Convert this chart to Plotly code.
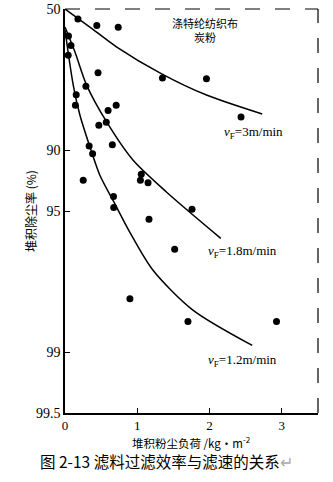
import numpy as np
import plotly.graph_objects as go

# Measured points: dust load (kg/m^2) and cumulative efficiency (%)
pt_load = [0.179, 0.440, 0.736, 0.048, 0.083, 0.044, 0.457, 1.348, 1.957, 0.289,
           0.155, 0.144, 0.708, 0.596, 0.468, 0.571, 2.435, 0.655, 0.334, 0.382,
           0.252, 1.055, 1.043, 1.149, 0.671, 0.674, 1.757, 1.162, 1.517, 0.898,
           1.701, 2.926]
pt_eff = [55.4, 58.6, 59.4, 63.2, 67.0, 70.5, 75.8, 77.2, 77.4, 79.3,
          81.2, 83.3, 83.3, 84.3, 86.7, 86.25, 85.4, 89.35, 89.5, 90.4,
          92.9, 92.4, 92.9, 93.1, 94.1, 94.8, 94.9, 95.45, 96.77, 98.16,
          98.58, 98.58]

# Fitted curves for filtration velocities
c3_load = [0.0, 0.344, 0.711, 1.344, 1.949, 2.728]
c3_eff = [50.0, 59.3, 67.5, 76.2, 81.2, 84.9]
c18_load = [0.0, 0.138, 0.299, 0.574, 0.940, 1.399, 2.155]
c18_eff = [59.3, 69.4, 79.0, 86.16, 91.06, 93.77, 96.34]
c12_load = [0.0, 0.114, 0.206, 0.344, 0.481, 0.674, 0.894, 1.215, 1.765, 2.590]
c12_eff = [60.6, 79.0, 85.06, 89.59, 92.46, 94.44, 96.06, 97.45, 98.38, 98.92]

y_tick_eff = [50, 90, 95, 99, 99.5]
y_tick_text = ["50", "90", "95", "99", "99.5"]
x_ticks = [0, 1, 2, 3]


def pen(eff):
    return [round(100 - e, 6) for e in eff]


fig = go.Figure()
line_style = dict(color="black", width=1.5, shape="spline", smoothing=0.8)
for lx, ly in [(c3_load, c3_eff), (c18_load, c18_eff), (c12_load, c12_eff)]:
    fig.add_trace(go.Scatter(x=lx, y=pen(ly), mode="lines", line=line_style,
                             hoverinfo="skip", showlegend=False))
fig.add_trace(go.Scatter(x=pt_load, y=pen(pt_eff), mode="markers",
                         marker=dict(color="black", size=7),
                         showlegend=False))

serif = "Liberation Serif"
cjk = "Noto Sans CJK SC"

fig.update_layout(
    width=333, height=482,
    margin=dict(l=65, r=15, t=9, b=69, autoexpand=False),
    paper_bgcolor="white", plot_bgcolor="white",
    font=dict(family=serif, size=13, color="black"),
    xaxis=dict(range=[0, 3.5], tickvals=x_ticks, ticks="inside", ticklen=5,
               tickcolor="black", showgrid=False, zeroline=False,
               showline=True, linecolor="black", linewidth=1.5,
               automargin=False,
               tickfont=dict(family=serif, size=13)),
    yaxis=dict(type="log", range=[np.log10(0.5), np.log10(50)],
               tickvals=pen(y_tick_eff), ticktext=y_tick_text,
               ticks="inside", ticklen=5, tickcolor="black",
               showgrid=False, zeroline=False, showline=True,
               linecolor="black", linewidth=1.5, automargin=False,
               tickfont=dict(family=serif, size=14)),
)

# dashed top and right frame
fig.add_shape(type="line", xref="paper", yref="paper", x0=0, x1=1, y0=1, y1=1,
              line=dict(color="black", width=1.2, dash="longdash"))
fig.add_shape(type="line", xref="paper", yref="paper", x0=1, x1=1, y0=0, y1=1,
              line=dict(color="black", width=1.2, dash="longdash"))


def px(xp):
    return (xp - 65) / 253.0


def py(yp):
    return (413 - yp) / 404.0


anns = [
    ("涤特纶纺织布<br>炭粉", 205, 30, 11, cjk, "center"),
    ("<i>v</i><sub>F</sub>=3m/min", 222, 132, 13, serif, "left"),
    ("<i>v</i><sub>F</sub>=1.8m/min", 206, 251, 13, serif, "left"),
    ("<i>v</i><sub>F</sub>=1.2m/min", 206, 360, 13, serif, "left"),
    ("堆积粉尘负荷 /kg·m<sup>-2</sup>", 191, 442, 11.5, cjk, "center"),
]
for text, xp_, yp_, size, fam, anchor in anns:
    fig.add_annotation(text=text, x=px(xp_), y=py(yp_), xref="paper", yref="paper",
                       showarrow=False, xanchor=anchor, yanchor="middle",
                       font=dict(family=fam, size=size, color="black"))

fig.add_annotation(text="堆积除尘率 (%)", x=px(30), y=py(211), xref="paper",
                   yref="paper", showarrow=False, textangle=-90,
                   xanchor="center", yanchor="middle",
                   font=dict(family=cjk, size=12, color="black"))
fig.add_annotation(text="图 2-13 滤料过滤效率与滤速的关系<span style='color:#aaaaaa'>↵</span>",
                   x=px(38), y=py(461), xref="paper", yref="paper",
                   showarrow=False, xanchor="left", yanchor="middle",
                   font=dict(family=cjk, size=15.5, color="black"))

fig.write_html("out.html")
